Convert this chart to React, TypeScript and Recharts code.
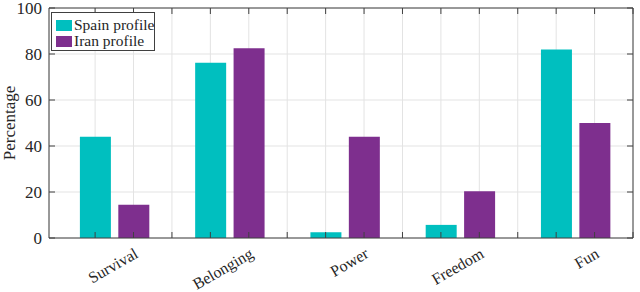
import React from "react"
import { BarChart, Bar, XAxis, YAxis, CartesianGrid, Legend } from "recharts"

const categories = ["Survival", "Belonging", "Power", "Freedom", "Fun"]
const spainProfile = [44, 76.2, 2.5, 5.7, 82]
const iranProfile = [14.5, 82.5, 44, 20.3, 50]
const seriesNames = ["Spain profile", "Iran profile"]
const yTicks = [0, 20, 40, 60, 80, 100]

// bars sit at 1,2 | 4,5 | 7,8 ... ; a tick (and grid line) at every slot
const slotTicks = Array.from({ length: 15 }, (_, i) => i + 1)
const labelTicks = categories.map((_, i) => 3 * i + 2)

const data = categories.flatMap((_, i) => [
  { pos: 3 * i + 1, spain: spainProfile[i], iran: 0 },
  { pos: 3 * i + 2, spain: 0, iran: iranProfile[i] },
])

const SERIF = "'Liberation Serif', 'Times New Roman', Times, serif"
const AXIS = "#404040"
const TEXT = "#262626"
const X_DOMAIN: [number, number] = [-0.2, 15]

function CategoryTick({ x, y, payload }: any) {
  const i = labelTicks.indexOf(payload.value)
  return (
    <g transform={`translate(${x},${y}) rotate(-30)`}>
      <text x={0} y={0} dy="0.7em" textAnchor="end" style={{ fontFamily: SERIF }} fontSize={16} fill={TEXT}>
        {categories[i]}
      </text>
    </g>
  )
}

// helper axes only carry tick marks
const NoLabel = () => <g />

function YTitle({ viewBox }: any) {
  const cx = viewBox.x + 10
  const cy = viewBox.y + viewBox.height / 2
  return (
    <text x={cx} y={cy} transform={`rotate(-90, ${cx}, ${cy})`} textAnchor="middle" style={{ fontFamily: SERIF }} fontSize={17} fill={TEXT}>
      Percentage
    </text>
  )
}

function LegendBox({ payload }: any) {
  const items = [...(payload || [])].sort((a: any, b: any) => seriesNames.indexOf(a.value) - seriesNames.indexOf(b.value))
  return (
    <div style={{ width: 104, height: 39, boxSizing: "border-box", border: `1px solid ${AXIS}`, background: "#fff", padding: "4px 0 0 4px" }}>
      {items.map((p: any) => (
        <div key={p.value} style={{ display: "flex", alignItems: "center", height: 16, fontFamily: SERIF, fontSize: 15.5, color: TEXT, whiteSpace: "nowrap", lineHeight: "16px" }}>
          <span style={{ width: 16, height: 11, background: p.color, marginRight: 2, flex: "none" }} />
          {p.value}
        </div>
      ))}
    </div>
  )
}

export default function App() {
  return (
    <div style={{ position: "absolute", left: 0, top: 0, width: 640, height: 292, background: "#fff" }}>
      <BarChart width={640} height={292} data={data} margin={{ top: 8, right: 7, left: 5, bottom: 4 }}>
        <CartesianGrid xAxisId="xt" yAxisId="y" stroke="#e3e3e3" />
        <Bar dataKey="spain" name={seriesNames[0]} stackId="s" xAxisId="x" yAxisId="y" fill="#00BFBF" barSize={31} isAnimationActive={false} />
        <Bar dataKey="iran" name={seriesNames[1]} stackId="s" xAxisId="x" yAxisId="y" fill="#7E2F8E" barSize={31} isAnimationActive={false} />
        <XAxis xAxisId="x" dataKey="pos" type="number" domain={X_DOMAIN} allowDataOverflow ticks={labelTicks} interval={0}
          height={50} tickLine={false} tickSize={0} tickMargin={9} axisLine={{ stroke: AXIS }} tick={<CategoryTick />} />
        <XAxis xAxisId="xb" dataKey="pos" type="number" orientation="bottom" mirror domain={X_DOMAIN} allowDataOverflow
          ticks={slotTicks} interval={0} tick={NoLabel} tickSize={6} tickLine={{ stroke: AXIS }} axisLine={false} height={20} />
        <XAxis xAxisId="xt" dataKey="pos" type="number" orientation="top" mirror domain={X_DOMAIN} allowDataOverflow
          ticks={slotTicks} interval={0} tick={NoLabel} tickSize={6} tickLine={{ stroke: AXIS }} axisLine={{ stroke: AXIS }} height={20} />
        <YAxis yAxisId="y" type="number" domain={[0, 100]} ticks={yTicks} interval={0} width={44} tickLine={false} tickSize={0} tickMargin={7}
          axisLine={{ stroke: AXIS }} tick={{ fontFamily: SERIF, fontSize: 17, fill: TEXT }} label={<YTitle />} />
        <YAxis yAxisId="yl" type="number" orientation="left" mirror domain={[0, 100]} allowDataOverflow ticks={yTicks} interval={0}
          tick={NoLabel} tickSize={6} tickLine={{ stroke: AXIS }} axisLine={false} width={20} />
        <YAxis yAxisId="yr" type="number" orientation="right" mirror domain={[0, 100]} allowDataOverflow ticks={yTicks} interval={0}
          tick={NoLabel} tickSize={6} tickLine={{ stroke: AXIS }} axisLine={{ stroke: AXIS }} width={20} />
        <Legend layout="horizontal" verticalAlign="middle" align="center" wrapperStyle={{ top: 12, left: 51, width: 104 }} content={<LegendBox />} />
      </BarChart>
    </div>
  )
}
